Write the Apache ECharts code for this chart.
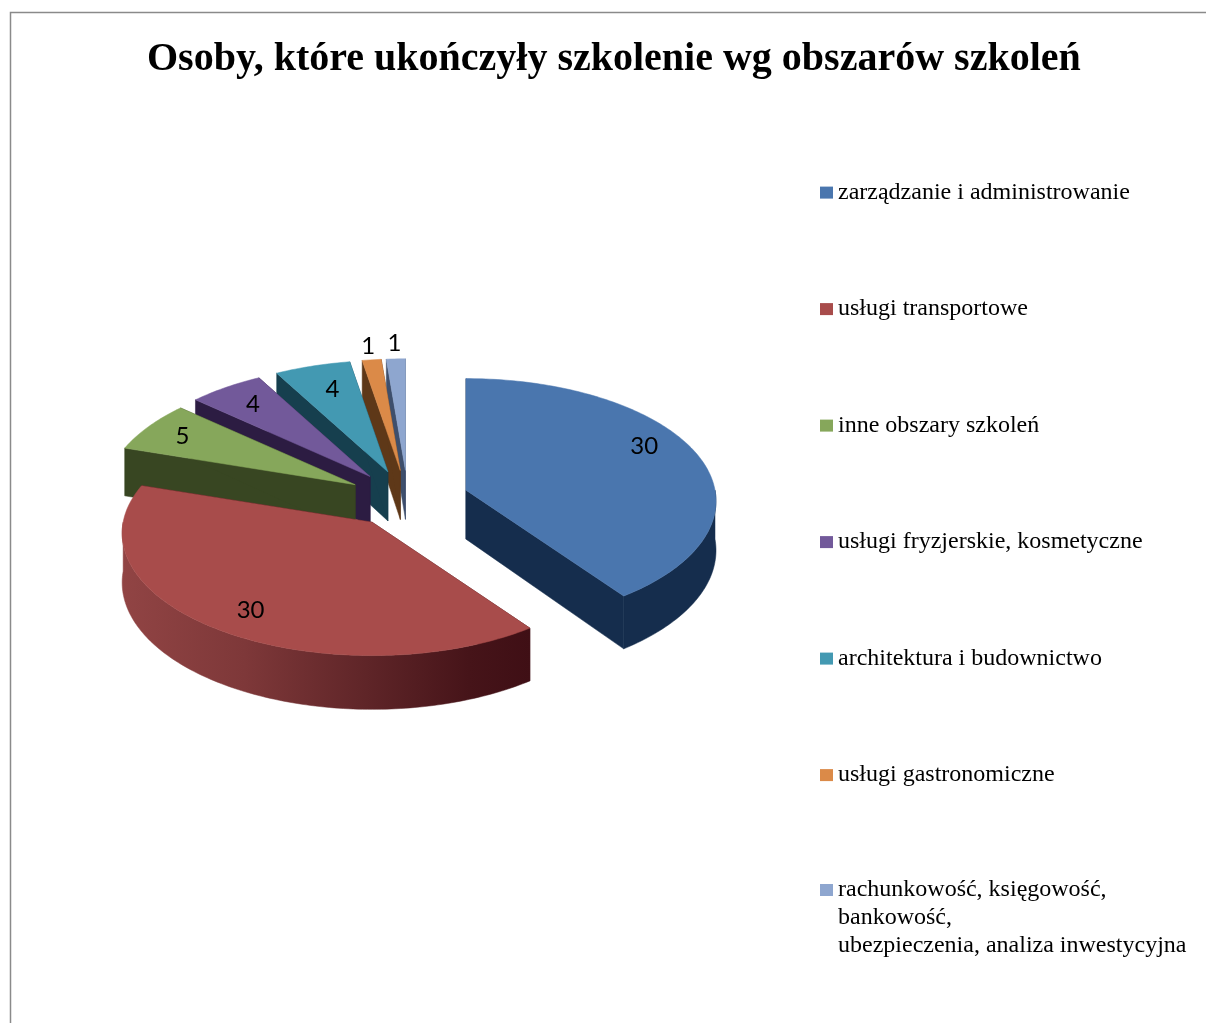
<!DOCTYPE html>
<html>
<head>
<meta charset="utf-8">
<title>Osoby, które ukończyły szkolenie wg obszarów szkoleń</title>
<script src="https://cdn.jsdelivr.net/npm/echarts@6/dist/echarts.min.js"></script>
<style>
	html, body {margin: 0; padding: 0; background: #fff;}
	#chart {width: 1206px; height: 1023px;}
</style>
</head>
<body>
<div id="chart"></div>
<script>
var chartTitle = 'Osoby, które ukończyły szkolenie wg obszarów szkoleń';
var categories = [
	'zarządzanie i administrowanie',
	'usługi transportowe',
	'inne obszary szkoleń',
	'usługi fryzjerskie, kosmetyczne',
	'architektura i budownictwo',
	'usługi gastronomiczne',
	'rachunkowość, księgowość,\nbankowość,\nubezpieczenia, analiza inwestycyjna'
];
var values = [30, 30, 5, 4, 4, 1, 1];

var topColors = ['#4A76AE', '#A84C4B', '#86A75B', '#72599A', '#4399B2', '#DB8A48', '#8EA6CF'];
var wallColors = ['#152D4D', '#3F0F15', '#384622', '#2C1C42', '#163F4E', '#5E3818', '#3E4F6C'];

// 饼图的投影参数
var pieCenter = [408, 499];
var radiusX = 249, radiusY = 121.5, perspective = 0.089;
var depth = 49, explode = 61, explodeTilt = 0.47;
var labelDist = [0.83, 0.82, 0.83, 0.8, 0.76, 1.13, 1.15];
var labelTurn = [-9, -2, 0, 0, 1, 0, 0];

var total = 0;
for (var n = 0; n < values.length; n++) {
	total += values[n];
}

function toRad(deg) {
	return deg * Math.PI / 180;
}

// 圆盘上的点投影到屏幕，f为半径比例，lift为向下的厚度
function diskPoint(apex, deg, f, lift) {
	var u = Math.sin(toRad(deg)) * f;
	var v = -Math.cos(toRad(deg)) * f;
	var s = 1 / (1 - perspective * v);
	return [apex[0] + radiusX * u * s, apex[1] + radiusY * v * s + lift * s];
}

function arcPoints(apex, from, to, lift) {
	var pts = [];
	for (var d = from; d < to; d += 1) {
		pts.push(diskPoint(apex, d, 1, lift));
	}
	pts.push(diskPoint(apex, to, 1, lift));
	return pts;
}

function polygon(points, fill) {
	return {
		type: 'polygon',
		shape: {points: points},
		style: {fill: fill, stroke: fill, lineWidth: 0.5}
	};
}

function radialWall(apex, deg, fill) {
	return polygon([
		apex,
		diskPoint(apex, deg, 1, 0),
		diskPoint(apex, deg, 1, depth),
		[apex[0], apex[1] + depth]
	], fill);
}

function wallFill(i) {
	if (i != 1) {
		return wallColors[i];
	}
	return new echarts.graphic.LinearGradient(0, 0, 1, 0, [
		{offset: 0, color: '#914444'},
		{offset: 0.3, color: '#7E3839'},
		{offset: 0.6, color: '#5F2528'},
		{offset: 0.85, color: '#461419'},
		{offset: 1, color: wallColors[1]}
	]);
}

function renderSlice(params, api) {
	var i = params.seriesIndex;
	var start = 0;
	for (var k = 0; k < i; k++) {
		start += values[k] / total * 360;
	}
	var end = start + api.value(0) / total * 360;
	var mid = (start + end) / 2;
	var apex = [
		pieCenter[0] + explode * Math.sin(toRad(mid)),
		pieCenter[1] - explode * explodeTilt * Math.cos(toRad(mid))
	];
	var children = [
		radialWall(apex, start, wallColors[i]),
		radialWall(apex, end, wallColors[i])
	];

	// 外壁只画朝向观察者的部分
	var wallFrom = Math.max(start, 90), wallTo = Math.min(end, 270);
	if (wallFrom < wallTo) {
		var outer = arcPoints(apex, wallFrom, wallTo, 0)
			.concat(arcPoints(apex, wallFrom, wallTo, depth).reverse());
		children.push(polygon(outer, wallFill(i)));
	}

	children.push(polygon([apex].concat(arcPoints(apex, start, end, 0)), topColors[i]));

	var labelPos = diskPoint(apex, mid + labelTurn[i], labelDist[i], 0);
	children.push({
		type: 'text',
		x: labelPos[0],
		y: labelPos[1],
		style: {
			text: String(api.value(0)),
			fill: '#000',
			font: '24px Lato',
			align: 'center',
			verticalAlign: 'middle'
		}
	});
	return {type: 'group', children: children};
}

var seriesArr = [];
for (var i = 0; i < categories.length; i++) {
	seriesArr.push({
		type: 'custom',
		name: categories[i],
		coordinateSystem: 'none',
		z: categories.length - i,
		silent: true,
		animation: false,
		itemStyle: {color: topColors[i]},
		renderItem: renderSlice,
		data: [[values[i]]]
	});
}

function legendBase(top, names) {
	return {
		orient: 'vertical',
		left: 820,
		top: top,
		padding: 0,
		icon: 'rect',
		itemWidth: 13,
		itemHeight: 12,
		itemGap: 88.5,
		selectedMode: false,
		textStyle: {color: '#000', fontFamily: 'Liberation Serif', fontSize: 24, lineHeight: 28},
		// 多行图例：前面补空行，让图标对齐第一行
		formatter: function(name) {
			return name.indexOf('\n') >= 0 ? '\n\n' + name : name;
		},
		data: names
	};
}

var option = {
	animation: false,
	title: {
		text: chartTitle,
		left: 147,
		top: 40,
		padding: 0,
		textStyle: {color: '#000', fontFamily: 'Liberation Serif', fontWeight: 'bold', fontSize: 40}
	},
	legend: [
		legendBase(178.6, categories.slice(0, 6)),
		legendBase(820, categories.slice(6))
	],
	graphic: [{
		type: 'rect',
		silent: true,
		shape: {x: 10.5, y: 12.5, width: 1300, height: 1100},
		style: {fill: 'none', stroke: '#8A8A8A', lineWidth: 1.5}
	}],
	series: seriesArr
};

var myChart = echarts.init(document.getElementById('chart'));
myChart.setOption(option);
</script>
</body>
</html>
